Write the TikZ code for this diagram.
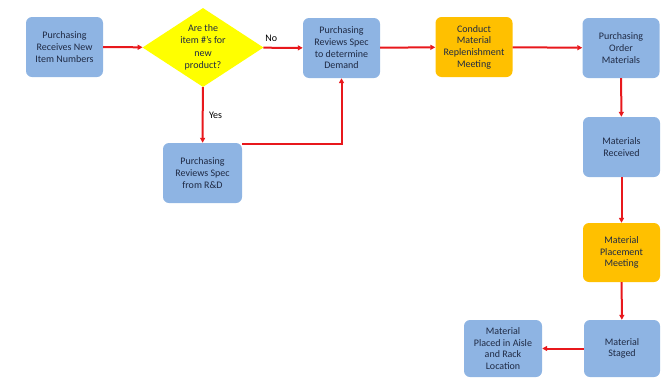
\documentclass[tikz,border=0pt]{standalone}
\usepackage{fontspec}
\setmainfont{Carlito}
\usetikzlibrary{arrows.meta,shapes.geometric}
\definecolor{FlowBlue}{HTML}{8EB4E3}
\definecolor{FlowGold}{HTML}{FFC000}
\definecolor{FlowYellow}{HTML}{FFFF00}
\definecolor{FlowRed}{HTML}{E8181C}
\definecolor{FlowText}{HTML}{1F2A44}

\begin{document}
\begin{tikzpicture}[x=1pt,y=-1pt,
  box/.style={rectangle,rounded corners=6pt,draw=none,fill=FlowBlue,
    minimum width=77pt,minimum height=60pt,inner sep=1pt,
    align=center,text=FlowText,font=\fontsize{10}{11.7}\selectfont},
  meetbox/.style={box,fill=FlowGold},
  decide/.style={diamond,aspect=1.53,inner sep=0pt,fill=FlowYellow,draw=none,
    minimum width=121pt,minimum height=79pt,align=center,text=FlowText,
    font=\fontsize{10}{12.5}\selectfont},
  flow/.style={draw=FlowRed,line width=2pt,-{Triangle[length=5pt,width=5pt]}},
  lbl/.style={font=\fontsize{10}{11.7}\selectfont,text=black}]
  \useasboundingbox (0,0) rectangle (664,378);

  % top row
  \node[box] (recv) at (64.5,47) {Purchasing\\Receives New\\Item Numbers};
  \node[decide] (ask) at (203,47.5) {Are the\\item \#'s for\\new\\product?};
  \node[box] (demand) at (341.5,48) {Purchasing\\Reviews Spec\\to determine\\Demand};
  \node[meetbox] (replen) at (474,47) {Conduct\\Material\\Replenishment\\Meeting};
  \node[box] (order) at (621,48) {Purchasing\\Order\\Materials};

  % yes branch
  \node[box,minimum width=79pt] (rnd) at (202.5,173) {Purchasing\\Reviews Spec\\from R\&D};

  % right column
  \node[box] (received) at (621.5,147) {Materials\\Received};
  \node[meetbox,minimum height=59pt] (placemeet) at (621.5,252.5) {Material\\Placement\\Meeting};
  \node[box,minimum width=76pt,minimum height=57pt] (staged) at (622,348.5) {Material\\Staged};
  \node[box,minimum width=78pt,minimum height=57pt] (aisle) at (503,348.5) {Material\\Placed in Aisle\\and Rack\\Location};

  \draw[flow] (recv) -- (ask);
  \draw[flow] (ask) -- node[lbl,above,pos=0.2,yshift=2pt] {No} (demand);
  \draw[flow] (ask) -- node[lbl,right,pos=0.5,xshift=2pt] {Yes} (rnd);
  \draw[flow] ([yshift=-1pt]rnd.north east) -| (demand.south);
  \draw[flow] (demand) -- (replen);
  \draw[flow] (replen) -- (order);
  \draw[flow] (order) -- (received);
  \draw[flow] (received) -- (placemeet);
  \draw[flow] (placemeet) -- (staged);
  \draw[flow] (staged) -- (aisle);
\end{tikzpicture}
\end{document}
